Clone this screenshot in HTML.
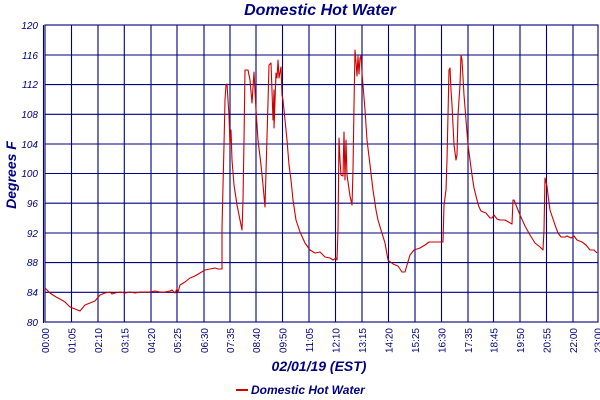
<!DOCTYPE html>
<html><head><meta charset="utf-8"><style>
html,body{margin:0;padding:0;background:#fff;}
svg{display:block;}
text{font-family:"Liberation Sans",sans-serif;fill:#000080;}
</style></head><body>
<svg width="600" height="400" viewBox="0 0 600 400" xmlns="http://www.w3.org/2000/svg">
<text x="320" y="15" font-size="16" font-weight="bold" font-style="italic" text-anchor="middle">Domestic Hot Water</text>
<g stroke="#000080" stroke-width="1.1" fill="none">
<line x1="43.5" y1="25" x2="43.5" y2="323"/>
<rect x="45" y="25" width="553" height="297"/>
<line x1="45" y1="55" x2="598" y2="55"/>
<line x1="45" y1="84.6" x2="598" y2="84.6"/>
<line x1="45" y1="114.3" x2="598" y2="114.3"/>
<line x1="45" y1="144" x2="598" y2="144"/>
<line x1="45" y1="173.5" x2="598" y2="173.5"/>
<line x1="45" y1="203.2" x2="598" y2="203.2"/>
<line x1="45" y1="233" x2="598" y2="233"/>
<line x1="45" y1="262.6" x2="598" y2="262.6"/>
<line x1="45" y1="292.3" x2="598" y2="292.3"/>
<line x1="71.5" y1="25" x2="71.5" y2="322"/>
<line x1="98" y1="25" x2="98" y2="322"/>
<line x1="124.3" y1="25" x2="124.3" y2="322"/>
<line x1="151" y1="25" x2="151" y2="322"/>
<line x1="177" y1="25" x2="177" y2="322"/>
<line x1="204" y1="25" x2="204" y2="322"/>
<line x1="230" y1="25" x2="230" y2="322"/>
<line x1="256" y1="25" x2="256" y2="322"/>
<line x1="282.5" y1="25" x2="282.5" y2="322"/>
<line x1="309" y1="25" x2="309" y2="322"/>
<line x1="335.5" y1="25" x2="335.5" y2="322"/>
<line x1="362" y1="25" x2="362" y2="322"/>
<line x1="388.5" y1="25" x2="388.5" y2="322"/>
<line x1="415" y1="25" x2="415" y2="322"/>
<line x1="441.5" y1="25" x2="441.5" y2="322"/>
<line x1="468" y1="25" x2="468" y2="322"/>
<line x1="493.5" y1="25" x2="493.5" y2="322"/>
<line x1="520" y1="25" x2="520" y2="322"/>
<line x1="546.5" y1="25" x2="546.5" y2="322"/>
<line x1="573" y1="25" x2="573" y2="322"/>
</g>
<g font-size="10" font-style="italic" text-anchor="end">
<text x="38" y="29">120</text><text x="38" y="59">116</text><text x="38" y="88">112</text><text x="38" y="118">108</text><text x="38" y="148">104</text><text x="38" y="177">100</text><text x="38" y="207">96</text><text x="38" y="237">92</text><text x="38" y="266">88</text><text x="38" y="296">84</text><text x="38" y="326">80</text>
</g>
<g font-size="10" text-anchor="end">
<text transform="translate(49,328) rotate(-90)">00:00</text>
<text transform="translate(75.5,328) rotate(-90)">01:05</text>
<text transform="translate(102,328) rotate(-90)">02:10</text>
<text transform="translate(128.3,328) rotate(-90)">03:15</text>
<text transform="translate(155,328) rotate(-90)">04:20</text>
<text transform="translate(181,328) rotate(-90)">05:25</text>
<text transform="translate(208,328) rotate(-90)">06:30</text>
<text transform="translate(234,328) rotate(-90)">07:35</text>
<text transform="translate(260,328) rotate(-90)">08:40</text>
<text transform="translate(286.5,328) rotate(-90)">09:50</text>
<text transform="translate(313,328) rotate(-90)">11:05</text>
<text transform="translate(339.5,328) rotate(-90)">12:10</text>
<text transform="translate(366,328) rotate(-90)">13:15</text>
<text transform="translate(392.5,328) rotate(-90)">14:20</text>
<text transform="translate(419,328) rotate(-90)">15:25</text>
<text transform="translate(445.5,328) rotate(-90)">16:30</text>
<text transform="translate(472,328) rotate(-90)">17:35</text>
<text transform="translate(497.5,328) rotate(-90)">18:45</text>
<text transform="translate(524,328) rotate(-90)">19:50</text>
<text transform="translate(550.5,328) rotate(-90)">20:55</text>
<text transform="translate(577,328) rotate(-90)">22:00</text>
<text transform="translate(601.5,328) rotate(-90)">23:00</text>
</g>
<text transform="translate(16,175) rotate(-90)" font-size="14" font-weight="bold" font-style="italic" text-anchor="middle">Degrees F</text>
<text x="319" y="371" font-size="14" font-weight="bold" font-style="italic" text-anchor="middle">02/01/19 (EST)</text>
<line x1="236" y1="390" x2="248" y2="390" stroke="#cc0000" stroke-width="2"/>
<text x="251" y="394" font-size="12" font-weight="bold" font-style="italic">Domestic Hot Water</text>
<polyline fill="none" stroke="#cc0000" stroke-width="1.1" stroke-linejoin="round" points="
45,288 50,293 56,297 60,299 65,302 70,307 75,309 80,311 85,305 90,303 95,301 100,295 105,293 110,292 112,294 115,293 120,292 125,293 130,292 135,293 140,292 150,292 155,291 160,292 165,292 170,291 172,290 175,293 177,289 178,292 180,285 185,282 190,278 195,276 200,273 205,270 210,269 215,268 218,269 222,269
222,228 224,145 225,100 226,85 227,84 228,100 229,115 230,145 231,130 232,160 234,185 237,205 240,220 242,230 243,200 244,140 245,70 248,70 250,80 252,103 254,72 256,110 258,140 261,165 263,185 265,207 266,172 268,102 269,65 271,63 273,120 274,90 274,128 276,73 277,78 278,60 279,78 281,67 282,95 283,100 285,120 287,140 289,165 291,180 293,200 296,220 300,232 305,243 310,250 315,253 320,252 325,257 330,258 333,260 336,258 337,260
338,230 339,138 340,160 341,175 343,176 344,132 345,180 346,140 347,175 350,196 352,205 353,170 354,105 355,50 356,62 357,76 358,56 359,74 360,58 361,56 362,73 363,85 365,110 367,140 370,165 373,190 376,210 378,220 381,230 385,243 388,260 393,264 398,266 402,272 405,272 407,265 410,255 414,250 420,248 425,245 429,242 436,242 443,242
444,205 446,190 447,160 448,115 449,70 450,68 451,90 452,105 454,145 456,160 457,155 458,115 460,85 461,55 462,60 464,95 466,120 468,145 470,160 472,175 474,188 477,200 479,207 481,211 486,213 490,218 492,218 494,215 497,219 500,220 505,220 512,224 513,200 514,200 516,205 520,215 525,226 530,235 535,243 540,247 543,250 544,230 545,178 547,186 548,195 550,210 555,225 558,233 561,237 565,237 567,236 571,238 574,236 577,240 582,242 586,245 590,250 594,250 597,253"/>
</svg>
</body></html>
